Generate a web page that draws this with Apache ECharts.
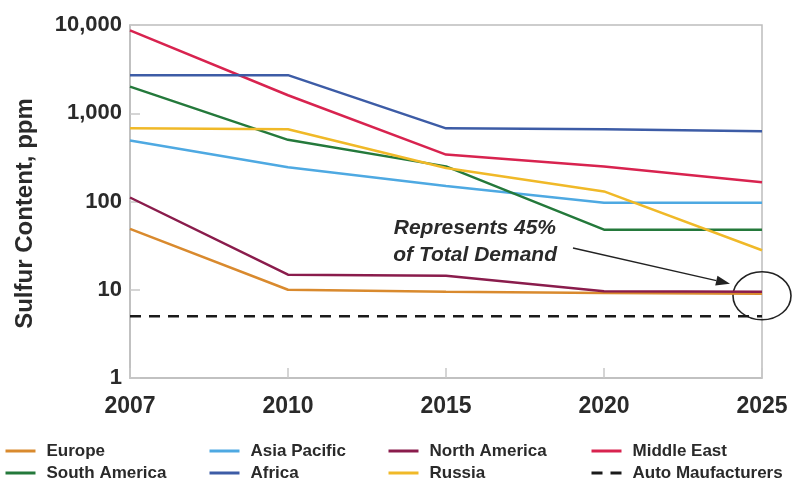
<!DOCTYPE html>
<html>
<head>
<meta charset="utf-8">
<script src="https://cdn.jsdelivr.net/npm/echarts@6/dist/echarts.min.js"></script>
<style>
  html, body { margin: 0; padding: 0; background: #fff; }
  #chart { width: 792px; height: 483px; }
</style>
</head>
<body>
<div id="chart"></div>
<script>
// Sulfur limits in fuel by region, ppm (log scale)
const years = ['2007', '2010', '2015', '2020', '2025'];

const europe       = [49, 10, 9.5, 9.2, 9];
const asiaPacific  = [490, 245, 150, 97, 97];
const northAmerica = [111, 14.8, 14.4, 9.6, 9.5];
const middleEast   = [8700, 1600, 340, 250, 165];
const southAmerica = [2000, 500, 250, 48, 48];
const africa       = [2700, 2700, 675, 660, 625];
const russia       = [675, 660, 240, 130, 28];
const autoMakers   = [5, 5, 5, 5, 5];

const yTicks = [1, 10, 100, 1000, 10000];

const FONT = '"Liberation Sans", Arial, sans-serif';
const TEXT = '#2a2a2a';

const seriesDefs = [
  { name: 'Europe',            data: europe,       color: '#d98a2e' },
  { name: 'Asia Pacific',      data: asiaPacific,  color: '#4ea9e2' },
  { name: 'North America',     data: northAmerica, color: '#8a1c4c' },
  { name: 'Middle East',       data: middleEast,   color: '#d8234f' },
  { name: 'South America',     data: southAmerica, color: '#24793b' },
  { name: 'Africa',            data: africa,       color: '#3d5ca6' },
  { name: 'Russia',            data: russia,       color: '#f0b928' },
  { name: 'Auto Maufacturers', data: autoMakers,   color: '#1a1a1a', dashed: true }
];

// legend slots: [name, icon left, row centre]
const legendSlots = [
  ['Europe', 4, 451], ['South America', 4, 473],
  ['Asia Pacific', 208, 451], ['Africa', 208, 473],
  ['North America', 387, 451], ['Russia', 387, 473],
  ['Middle East', 590, 451], ['Auto Maufacturers', 590, 473]
];

const chart = echarts.init(document.getElementById('chart'), null, { renderer: 'canvas' });

const option = {
  animation: false,
  backgroundColor: '#fff',
  grid: {
    left: 130, right: 30, top: 25, bottom: 105,
    containLabel: false,
    outerBoundsMode: 'none',
    show: true, borderColor: '#bdbdbd', borderWidth: 1.5, backgroundColor: 'transparent'
  },
  legend: legendSlots.map(([name, left, cy]) => ({
    left: left,
    top: cy - 10,
    padding: 0,
    itemWidth: 30,
    itemHeight: 14,
    itemStyle: { opacity: 0 },
    lineStyle: { width: 3 },
    data: [name],
    selectedMode: false,
    textStyle: {
      fontFamily: FONT, fontSize: 17, fontWeight: 'bold', color: TEXT,
      lineHeight: 20, padding: [0, 0, 0, 6]
    }
  })),
  xAxis: {
    type: 'category',
    data: years,
    boundaryGap: false,
    axisLine: { show: true, lineStyle: { color: '#bdbdbd', width: 1.5 } },
    axisTick: { show: true, inside: true, length: 10, lineStyle: { color: '#c8c8c8', width: 1.5 } },
    axisLabel: { fontFamily: FONT, fontSize: 23, fontWeight: 'bold', color: TEXT, margin: 17 },
    splitLine: { show: false }
  },
  yAxis: {
    type: 'log',
    logBase: 10,
    min: yTicks[0],
    max: yTicks[yTicks.length - 1],
    name: 'Sulfur Content, ppm',
    nameLocation: 'middle',
    nameGap: 93,
    nameTextStyle: {
      fontFamily: FONT, fontSize: 24, fontWeight: 'bold', color: TEXT,
      padding: [0, 24, 0, 0]
    },
    axisLine: { show: true, lineStyle: { color: '#bdbdbd', width: 1.5 } },
    axisTick: { show: true, inside: true, length: 10, lineStyle: { color: '#c8c8c8', width: 1.5 } },
    axisLabel: {
      fontFamily: FONT, fontSize: 22, fontWeight: 'bold', color: TEXT, margin: 8,
      formatter: v => Number(v).toLocaleString('en-US')
    },
    splitLine: { show: false },
    minorTick: { show: false }
  },
  series: seriesDefs.map(s => ({
    name: s.name,
    type: 'line',
    data: s.data,
    symbol: 'none',
    color: s.color,
    lineStyle: {
      color: s.color,
      width: 2.5,
      type: s.dashed ? [11, 8] : 'solid'
    },
    z: s.dashed ? 1 : 2
  }))
};

chart.setOption(option);

// Callout pointing at the 2025 cluster of ~9 ppm limits
const target = chart.convertToPixel({ xAxisIndex: 0, yAxisIndex: 0 }, ['2025', 9]);
const cx = target[0], cy = target[1] + 2;
const tipX = cx - 32, tipY = cy - 12;
const tailX = 573, tailY = 248;
const ang = Math.atan2(tipY - tailY, tipX - tailX);
const headLen = 14, headW = 5;
const bx = tipX - headLen * Math.cos(ang), by = tipY - headLen * Math.sin(ang);
const px = -Math.sin(ang) * headW, py = Math.cos(ang) * headW;

const calloutText = {
  fontFamily: FONT, fontSize: 21, fontWeight: 'bold', fontStyle: 'italic',
  fill: TEXT, textAlign: 'right', textVerticalAlign: 'middle'
};

chart.setOption({
  graphic: [
    { type: 'text', x: 556, y: 228, style: Object.assign({ text: 'Represents 45%' }, calloutText) },
    { type: 'text', x: 557, y: 255, style: Object.assign({ text: 'of Total Demand' }, calloutText) },
    {
      type: 'line',
      shape: { x1: tailX, y1: tailY, x2: bx, y2: by },
      style: { stroke: '#222', lineWidth: 1.3 }
    },
    {
      type: 'polygon',
      shape: { points: [[tipX, tipY], [bx + px, by + py], [bx - px, by - py]] },
      style: { fill: '#222' }
    },
    {
      type: 'ellipse',
      shape: { cx: cx, cy: cy, rx: 29, ry: 24 },
      style: { fill: 'none', stroke: '#222', lineWidth: 1.6 }
    }
  ]
});
</script>
</body>
</html>
